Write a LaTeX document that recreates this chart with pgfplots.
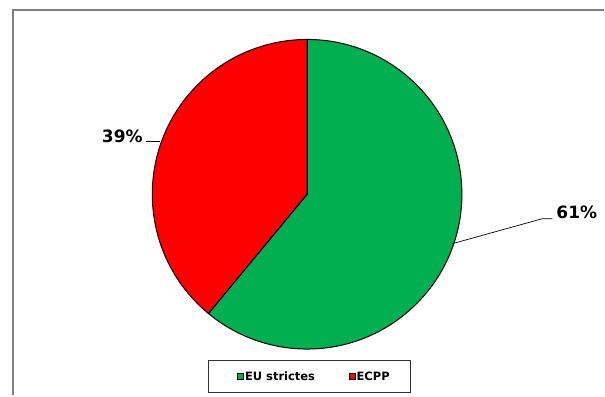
\documentclass[border=0pt]{standalone}
\usepackage{pgfplots}
\pgfplotsset{compat=1.18}
\usepackage{fontspec}
\setmainfont{DejaVu Sans}
\definecolor{pieGreen}{HTML}{00B050}
\definecolor{pieRed}{HTML}{FF0000}
\definecolor{frameGray}{HTML}{7F7F7F}
\begin{document}
\begin{tikzpicture}
\def\valGreen{61}
\def\valRed{39}
\pgfmathsetmacro\angEnd{90-\valGreen*3.6}
\begin{axis}[
  width=605pt, height=396pt, scale only axis,
  xmin=0, xmax=605, ymin=0, ymax=396,
  hide axis, clip=false,
  legend columns=2,
  legend style={at={(axis cs:315,19)}, anchor=center, draw=none, fill=none,
    font=\fontsize{11.5}{13}\selectfont\bfseries,
    /tikz/every odd column/.append style={column sep=-1pt},
    /tikz/every even column/.append style={column sep=32pt}},
  legend image code/.code={\draw[#1, draw=black, line width=0.6pt] (0pt,-3pt) rectangle (6pt,3pt);},
]
% frame
\draw[frameGray, line width=1.6pt] (axis cs:13,0) -- (axis cs:13,386) -- (axis cs:605,386);
\path (axis cs:0,0) rectangle (axis cs:605,396);
% legend box
\draw[black!80, line width=0.8pt] (axis cs:209,3) rectangle (axis cs:411,35);
% slices
\filldraw[fill=pieGreen, draw=black, line width=1pt] (axis cs:307.5,201.5) -- ++(90:155pt) arc[start angle=90, end angle=\angEnd, radius=155pt] -- cycle;
\filldraw[fill=pieRed, draw=black, line width=1pt] (axis cs:307.5,201.5) -- ++(\angEnd:155pt) arc[start angle=\angEnd, end angle=-270, radius=155pt] -- cycle;
% leaders
\draw[black, line width=0.7pt] (axis cs:146,254) -- (axis cs:160,254);
\draw[black, line width=0.7pt] (axis cs:453,152) -- (axis cs:543,177) -- (axis cs:553,177);
\node[anchor=east, inner sep=0pt, font=\fontsize{17}{20}\selectfont\bfseries] at (axis cs:143,259) {39\%};
\node[anchor=west, inner sep=0pt, font=\fontsize{17}{20}\selectfont\bfseries] at (axis cs:557,183) {61\%};
\addlegendimage{fill=pieGreen}
\addlegendentry{EU strictes}
\addlegendimage{fill=pieRed}
\addlegendentry{ECPP}
\end{axis}
\end{tikzpicture}
\end{document}
